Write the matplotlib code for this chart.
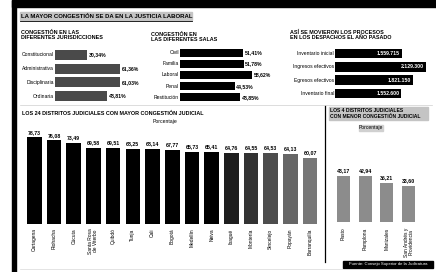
import matplotlib
matplotlib.use("Agg")
import matplotlib.pyplot as plt
from matplotlib.patches import Rectangle

W, H = 436, 272
FAM = ['Liberation Sans Narrow', 'Liberation Sans', 'DejaVu Sans']

# ---------------- data ----------------
jur_labels = ["Constitucional", "Administrativa", "Disciplinaria", "Ordinaria"]
jur_vals = [30.34, 61.36, 61.03, 48.81]

sala_labels = ["Civil", "Familia", "Laboral", "Penal", "Restitución"]
sala_vals = [51.41, 51.78, 58.62, 44.53, 48.85]

proc_labels = ["Inventario inicial", "Ingresos efectivos", "Egresos efectivos", "Inventario final"]
proc_vals = [1559715, 2129300, 1821150, 1552600]

top_labels = ["Cartagena", "Riohacha", "Cúcuta", "Santa Rosa\nde Viterbo", "Quibdó",
              "Tunja", "Cali", "Bogotá", "Medellín", "Neiva", "Ibagué", "Montería",
              "Sincelejo", "Popayán", "Barranquilla"]
top_vals = [78.73, 76.08, 73.49, 69.58, 69.51, 68.25, 68.14, 67.77, 65.73, 65.41,
            64.76, 64.55, 64.53, 64.13, 60.07]

low_labels = ["Pasto", "Pamplona", "Manizales", "San Andrés y\nProvidencia"]
low_vals = [43.17, 42.94, 36.21, 33.60]


def pct(v):
    return f"{v:.2f}".replace(".", ",") + "%"


def num(v):
    return f"{v:,}".replace(",", ".")


def dec(v):
    return f"{v:.2f}".replace(".", ",")


fig = plt.figure(figsize=(W / 100, H / 100), dpi=100)
fig.patch.set_facecolor("white")


def ax_px(x0, y0, x1, y1):
    a = fig.add_axes([x0 / W, 1 - y1 / H, (x1 - x0) / W, (y1 - y0) / H])
    a.set_axis_off()
    a.patch.set_alpha(0)
    return a


# overlay for decoration and text in pixel coords
ov = fig.add_axes([0, 0, 1, 1])
ov.set_xlim(0, W)
ov.set_ylim(H, 0)
ov.set_axis_off()
ov.add_patch(Rectangle((12, 0), W - 12, 7, color="black"))
ov.add_patch(Rectangle((12, 0), 4, H, color="black"))

# main title
ov.add_patch(Rectangle((20, 12), 172, 8, color="#c4c4c4"))
ov.text(21, 16.2, "LA MAYOR CONGESTIÓN SE DA EN LA JUSTICIA LABORAL", family=FAM,
        fontsize=4.3, fontweight="bold", va="center", ha="left")
ov.plot([20, 192], [21, 21], color="black", lw=0.6)

# panel titles
ov.text(21, 35, "CONGESTIÓN EN LAS\nDIFERENTES JURISDICCIONES", family=FAM, fontsize=3.9,
        fontweight="bold", va="center", ha="left", linespacing=1.0)
ov.text(151, 37, "CONGESTIÓN EN\nLAS DIFERENTES SALAS", family=FAM, fontsize=3.9,
        fontweight="bold", va="center", ha="left", linespacing=1.0)
ov.text(290, 35, "ASÍ SE MOVIERON LOS PROCESOS\nEN LOS DESPACHOS EL AÑO PASADO", family=FAM,
        fontsize=3.9, fontweight="bold", va="center", ha="left", linespacing=1.0)

ov.plot([20, 432], [105, 105], color="#cfcfcf", lw=0.5)
ov.text(22, 113, "LOS 24 DISTRITOS JUDICIALES CON MAYOR CONGESTIÓN JUDICIAL", family=FAM,
        fontsize=3.9, fontweight="bold", va="center", ha="left")
ov.text(165, 122, "Porcentaje", family=FAM, fontsize=3.7, va="center", ha="center")
ov.plot([325, 325], [106, 262], color="black", lw=0.9)
ov.add_patch(Rectangle((329, 107), 99, 13, color="#c4c4c4"))
ov.text(330, 113.5, "LOS 4 DISTRITOS JUDICIALES\nCON MENOR CONGESTIÓN JUDICIAL", family=FAM,
        fontsize=3.6, fontweight="bold", va="center", ha="left", linespacing=1.0)
ov.add_patch(Rectangle((359, 125), 24, 6, color="#d0d0d0"))
ov.text(371, 128, "Porcentaje", family=FAM, fontsize=3.6, va="center", ha="center")
ov.plot([20, 432], [269, 269], color="#d9d9d9", lw=0.5)
ov.add_patch(Rectangle((343, 261), 90, 7, color="black"))
ov.text(388, 264.5, "Fuente: Consejo Superior de la Judicatura", family=FAM, fontsize=3.1,
        color="white", va="center", ha="center")

# ---------- panel 1: jurisdicciones ----------
a1 = ax_px(55, 48, 135, 103)
y1 = list(range(len(jur_vals)))
a1.barh(y1, jur_vals, height=0.72, color="#4a4a4a")
a1.set_ylim(len(jur_vals) - 0.5, -0.5)
a1.set_xlim(0, 75)
for i, (lab, v) in enumerate(zip(jur_labels, jur_vals)):
    a1.text(-1, i, lab, ha="right", va="center", family=FAM, fontsize=3.6)
    a1.text(v + 1.5, i, pct(v), ha="left", va="center", family=FAM, fontsize=3.7,
            fontweight="bold")

# ---------- panel 2: salas ----------
a2 = ax_px(180, 47, 280, 103)
y2 = list(range(len(sala_vals)))
a2.barh(y2, sala_vals, height=0.72, color="black")
a2.set_ylim(len(sala_vals) - 0.5, -0.5)
a2.set_xlim(0, 81)
for i, (lab, v) in enumerate(zip(sala_labels, sala_vals)):
    a2.text(-1, i, lab, ha="right", va="center", family=FAM, fontsize=3.6)
    a2.text(v + 1, i, pct(v), ha="left", va="center", family=FAM, fontsize=3.7,
            fontweight="bold")

# ---------- panel 3: procesos ----------
a3 = ax_px(335, 47, 432, 100)
y3 = list(range(len(proc_vals)))
a3.barh(y3, proc_vals, height=0.72, color="black")
a3.set_ylim(len(proc_vals) - 0.5, -0.5)
a3.set_xlim(0, 2270000)
for i, (lab, v) in enumerate(zip(proc_labels, proc_vals)):
    a3.text(-25000, i, lab, ha="right", va="center", family=FAM, fontsize=3.6)
    a3.text(v - 40000, i, num(v), ha="right", va="center", family=FAM, fontsize=3.7,
            color="white", fontweight="bold")

# ---------- main chart: top districts ----------
top_colors = ["black"] * 10 + ["#1e1e1e", "#333333", "#4d4d4d", "#666666", "#777777"]
a4 = ax_px(24.5, 124, 320, 224)
x4 = list(range(len(top_vals)))
a4.bar(x4, top_vals, width=0.74, color=top_colors)
a4.set_xlim(-0.5, len(top_vals) - 0.5)
a4.set_ylim(0, 91)
for i, (lab, v) in enumerate(zip(top_labels, top_vals)):
    a4.text(i, v + 2.5, dec(v), ha="center", va="bottom", family=FAM, fontsize=3.8,
            fontweight="bold")
    a4.text(i, -4, lab, ha="center", va="top", rotation=90, family=FAM, fontsize=3.5,
            linespacing=1.0)

# ---------- right chart: low districts ----------
a5 = ax_px(332.6, 122, 419.4, 222)
x5 = list(range(len(low_vals)))
a5.bar(x5, low_vals, width=0.6, color="#8c8c8c")
a5.set_xlim(-0.5, len(low_vals) - 0.5)
a5.set_ylim(0, 93.5)
for i, (lab, v) in enumerate(zip(low_labels, low_vals)):
    a5.text(i, v + 2.5, dec(v), ha="center", va="bottom", family=FAM, fontsize=3.8,
            fontweight="bold")
    a5.text(i, -5, lab, ha="center", va="top", rotation=90, family=FAM, fontsize=3.5,
            linespacing=1.0)

fig.savefig("out.png", dpi=100, facecolor="white")
